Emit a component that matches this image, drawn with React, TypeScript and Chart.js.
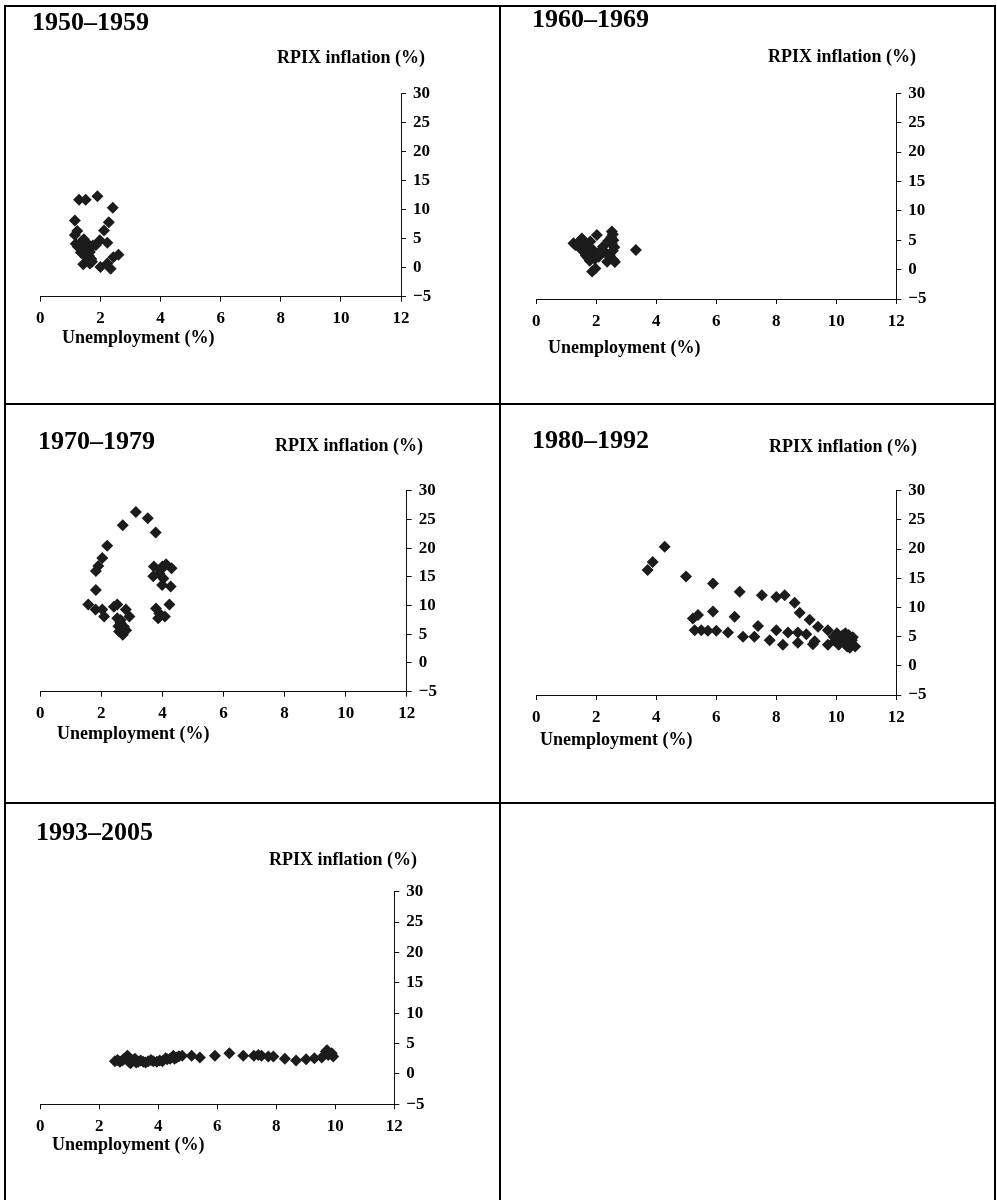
import React, { useEffect, useRef } from "react";
import { Chart, registerables } from "chart.js";

Chart.register(...registerables);

// Quarterly observations: unemployment rate (%) and RPIX inflation (%)
const periods = ["1950\u20131959", "1960\u20131969", "1970\u20131979", "1980\u20131992", "1993\u20132005"];

const unemployment1950s = [1.29, 1.51, 1.9, 2.41, 1.15, 2.28, 1.23, 1.15, 2.12, 1.98, 2.23, 1.43, 1.65, 2.0, 2.23, 2.34, 2.43, 2.6, 1.18, 1.25, 1.32, 1.38, 1.45, 1.5, 1.55, 1.6, 1.68, 1.75, 1.85, 1.35, 1.45, 1.55, 1.62, 1.7, 1.65, 1.48, 1.72, 1.4, 1.58, 1.52];
const inflation1950s = [11.7, 11.7, 12.3, 10.3, 8.1, 7.8, 6.3, 5.6, 6.4, 4.7, 4.3, 0.6, 0.7, 0.1, 0.7, -0.2, 1.8, 2.2, 4.1, 3.6, 3.9, 4.5, 4.9, 4.2, 3.5, 4.0, 3.4, 3.8, 3.9, 2.6, 2.9, 2.3, 2.0, 1.5, 2.7, 3.2, 1.0, 3.3, 1.3, 1.8];

const unemployment1960s = [1.24, 1.3, 1.38, 1.45, 1.52, 1.6, 1.68, 1.8, 1.5, 1.58, 1.65, 1.72, 1.78, 1.85, 1.9, 1.62, 1.75, 1.86, 1.97, 2.02, 2.22, 2.08, 2.3, 2.36, 2.45, 2.52, 2.55, 2.5, 2.57, 2.52, 2.6, 2.55, 2.48, 2.58, 2.62, 2.4, 1.95, 2.15, 3.32, 1.4];
const inflation1960s = [4.5, 4.2, 4.0, 4.8, 5.3, 4.6, 4.2, 4.8, 3.6, 3.0, 2.4, 2.0, 1.5, 2.6, 3.3, 3.8, 3.5, -0.3, 0.2, 5.9, 3.9, 2.2, 2.9, 1.35, 2.5, 6.5, 6.0, 5.5, 5.0, 4.4, 3.8, 3.2, 2.0, 1.6, 1.3, 4.9, 1.8, 3.2, 3.35, 4.4];

const unemployment1970s = [3.13, 3.52, 2.7, 3.78, 2.19, 2.03, 1.9, 1.82, 1.82, 1.57, 1.81, 2.03, 2.09, 2.41, 2.52, 2.8, 2.92, 2.52, 2.63, 2.56, 2.74, 2.58, 2.7, 2.81, 3.72, 3.7, 3.9, 4.0, 4.12, 4.3, 4.03, 3.99, 4.27, 3.79, 3.9, 3.86, 4.08, 4.23, 3.94, 2.62];
const inflation1970s = [26.3, 25.2, 24.0, 22.7, 20.4, 18.3, 16.9, 16.0, 12.7, 10.2, 9.3, 9.3, 8.1, 9.8, 10.2, 9.3, 8.1, 7.8, 7.5, 6.4, 6.3, 5.5, 4.9, 5.7, 16.8, 15.1, 15.6, 16.8, 17.2, 16.5, 14.7, 13.6, 13.3, 9.5, 8.6, 7.8, 8.1, 10.2, 16.2, 7.0];

const unemployment1980s = [3.71, 3.88, 4.28, 4.99, 5.89, 6.78, 7.52, 8.0, 8.28, 8.61, 8.78, 9.11, 9.39, 9.72, 5.22, 5.39, 5.89, 6.61, 5.28, 5.5, 5.72, 6.0, 6.39, 6.89, 7.27, 7.39, 7.78, 8.0, 8.22, 8.39, 8.72, 8.72, 9.0, 9.22, 9.28, 9.72, 9.91, 10.02, 10.13, 10.24, 10.3, 10.41, 10.47, 10.52, 10.63, 10.08, 10.36, 10.2, 10.55, 9.95, 10.45, 10.35];
const inflation1980s = [16.4, 17.8, 20.4, 15.3, 14.1, 12.7, 12.1, 11.8, 12.1, 10.8, 9.1, 7.9, 6.7, 6.1, 8.1, 8.7, 9.3, 8.4, 6.1, 6.1, 6.0, 6.0, 5.7, 5.0, 5.0, 6.8, 4.4, 6.1, 3.6, 5.7, 5.7, 3.95, 5.4, 3.7, 4.2, 3.6, 5.0, 5.6, 4.1, 4.7, 5.6, 5.3, 3.6, 4.4, 3.3, 3.6, 3.3, 5.2, 4.9, 4.3, 3.1, 4.2];

const unemployment1990s = [2.53, 2.7, 2.84, 2.98, 3.1, 3.06, 3.21, 3.32, 3.49, 3.66, 3.83, 4.14, 4.25, 4.4, 4.51, 4.62, 4.81, 5.13, 5.41, 5.92, 6.41, 6.88, 7.24, 7.39, 7.5, 7.73, 7.9, 8.29, 8.67, 9.01, 9.29, 9.54, 9.68, 9.88, 9.93, 9.76, 2.62, 2.78, 2.9, 3.0, 3.15, 3.4, 3.57, 3.75, 3.95, 4.05, 4.3, 4.55, 2.95, 3.25, 4.7, 9.72];
const inflation1990s = [2.1, 2.0, 2.5, 2.85, 2.3, 1.75, 2.5, 2.0, 2.0, 2.1, 2.1, 2.1, 2.6, 2.5, 3.0, 2.7, 3.0, 3.0, 2.7, 3.0, 3.4, 3.0, 3.0, 3.1, 3.0, 2.85, 2.85, 2.5, 2.2, 2.4, 2.6, 2.7, 3.7, 3.4, 2.85, 3.1, 2.3, 2.2, 2.6, 2.0, 2.2, 2.2, 1.9, 2.3, 2.0, 2.2, 2.4, 2.5, 3.0, 1.9, 2.9, 3.9];

// Axis ranges and tick steps
const xTickRange = [0, 12, 2];
const yTickRange = [-5, 30, 5];

const xAxisTitle = "Unemployment (%)";
const yAxisTitle = "RPIX inflation (%)";

const FONT = "'Liberation Serif', 'Times New Roman', Times, serif";
const MARK = "#1c1c1c";
const AXIS = "#111";
const Y_AXIS_W = 40;
const X_AXIS_H = 30;

type Box = { x: number; y: number; w: number; h: number };
type Area = { l: number; r: number; t: number; b: number };
type PanelDef = {
  title: string;
  xs: number[];
  ys: number[];
  box: Box;
  area: Area;
  titlePos: [number, number];
  yTitlePos: [number, number];
  xTitlePos: [number, number];
};

const panels: PanelDef[] = [
  {
    title: periods[0], xs: unemployment1950s, ys: inflation1950s,
    box: { x: 8, y: 9, w: 488, h: 392 },
    area: { l: 40.3, r: 401, t: 93.3, b: 296.7 },
    titlePos: [32, 22], yTitlePos: [277, 57], xTitlePos: [62, 337],
  },
  {
    title: periods[1], xs: unemployment1960s, ys: inflation1960s,
    box: { x: 503, y: 9, w: 489, h: 392 },
    area: { l: 536.3, r: 896.3, t: 93.3, b: 299 },
    titlePos: [532, 19], yTitlePos: [768, 56], xTitlePos: [548, 347],
  },
  {
    title: periods[2], xs: unemployment1970s, ys: inflation1970s,
    box: { x: 8, y: 407, w: 488, h: 393 },
    area: { l: 40.3, r: 406.7, t: 490.7, b: 691.7 },
    titlePos: [38, 441], yTitlePos: [275, 445], xTitlePos: [57, 733],
  },
  {
    title: periods[3], xs: unemployment1980s, ys: inflation1980s,
    box: { x: 503, y: 407, w: 489, h: 393 },
    area: { l: 536.3, r: 896.3, t: 490.7, b: 695 },
    titlePos: [532, 440], yTitlePos: [769, 446], xTitlePos: [540, 739],
  },
  {
    title: periods[4], xs: unemployment1990s, ys: inflation1990s,
    box: { x: 8, y: 806, w: 488, h: 392 },
    area: { l: 40.3, r: 394.3, t: 891.7, b: 1104.3 },
    titlePos: [36, 832], yTitlePos: [269, 859], xTitlePos: [52, 1144],
  },
];

function formatTick(v: number | string) {
  const n = Number(v);
  return n < 0 ? "\u2212" + Math.abs(n) : String(n);
}

function ScatterPanel({ p }: { p: PanelDef }) {
  const ref = useRef<HTMLCanvasElement | null>(null);

  useEffect(() => {
    const canvas = ref.current;
    if (!canvas) return;
    const padding = {
      left: p.area.l - p.box.x,
      top: p.area.t - p.box.y,
      right: p.box.x + p.box.w - p.area.r - Y_AXIS_W,
      bottom: p.box.y + p.box.h - p.area.b - X_AXIS_H,
    };
    const tickFont = { family: FONT, size: 17, weight: "bold" as const };
    const chart = new Chart(canvas, {
      type: "scatter",
      data: {
        datasets: [
          {
            data: p.xs.map((x, i) => ({ x, y: p.ys[i] })),
            pointStyle: "rectRot",
            pointRadius: 6,
            backgroundColor: MARK,
            borderColor: MARK,
            borderWidth: 0,
          },
        ],
      },
      options: {
        responsive: false,
        animation: false,
        devicePixelRatio: 1,
        events: [],
        layout: { padding },
        plugins: { legend: { display: false }, tooltip: { enabled: false } },
        scales: {
          x: {
            type: "linear",
            position: "bottom",
            min: xTickRange[0],
            max: xTickRange[1],
            ticks: { stepSize: xTickRange[2], color: "#000", font: tickFont, padding: 7, maxRotation: 0, callback: formatTick },
            grid: { drawOnChartArea: false, drawTicks: true, tickLength: 5, color: AXIS, lineWidth: 1 },
            border: { display: true, color: AXIS, width: 1 },
            afterFit: (s: any) => { s.height = X_AXIS_H; },
          },
          y: {
            type: "linear",
            position: "right",
            min: yTickRange[0],
            max: yTickRange[1],
            ticks: { stepSize: yTickRange[2], color: "#000", font: tickFont, padding: 7, callback: formatTick },
            grid: { drawOnChartArea: false, drawTicks: true, tickLength: 5, color: AXIS, lineWidth: 1 },
            border: { display: true, color: AXIS, width: 1 },
            afterFit: (s: any) => { s.width = Y_AXIS_W; },
          },
        },
      },
    });
    return () => chart.destroy();
  }, [p]);

  return (
    <canvas
      ref={ref}
      width={p.box.w}
      height={p.box.h}
      style={{ position: "absolute", left: p.box.x, top: p.box.y, width: p.box.w, height: p.box.h }}
    />
  );
}

function Label({ text, pos, size }: { text: string; pos: [number, number]; size: number }) {
  return (
    <div
      style={{
        position: "absolute",
        left: pos[0],
        top: pos[1] - size / 2,
        fontFamily: FONT,
        fontWeight: "bold",
        fontSize: size,
        lineHeight: 1,
        whiteSpace: "nowrap",
        color: "#000",
      }}
    >
      {text}
    </div>
  );
}

const rule = (left: number, top: number, width: number, height: number) => (
  <div style={{ position: "absolute", left, top, width, height, background: "#000" }} />
);

export default function App() {
  return (
    <div style={{ position: "absolute", left: 0, top: 0, width: 997, height: 1200, overflow: "hidden", background: "#fff" }}>
      {panels.map((p) => (
        <React.Fragment key={p.title}>
          <ScatterPanel p={p} />
          <Label text={p.title} pos={p.titlePos} size={26} />
          <Label text={yAxisTitle} pos={p.yTitlePos} size={18} />
          <Label text={xAxisTitle} pos={p.xTitlePos} size={18} />
        </React.Fragment>
      ))}
      {rule(4, 5, 992, 2)}
      {rule(4, 5, 2, 1195)}
      {rule(994, 5, 2, 1195)}
      {rule(499, 5, 2, 1195)}
      {rule(4, 403, 992, 2)}
      {rule(4, 802, 992, 2)}
    </div>
  );
}
